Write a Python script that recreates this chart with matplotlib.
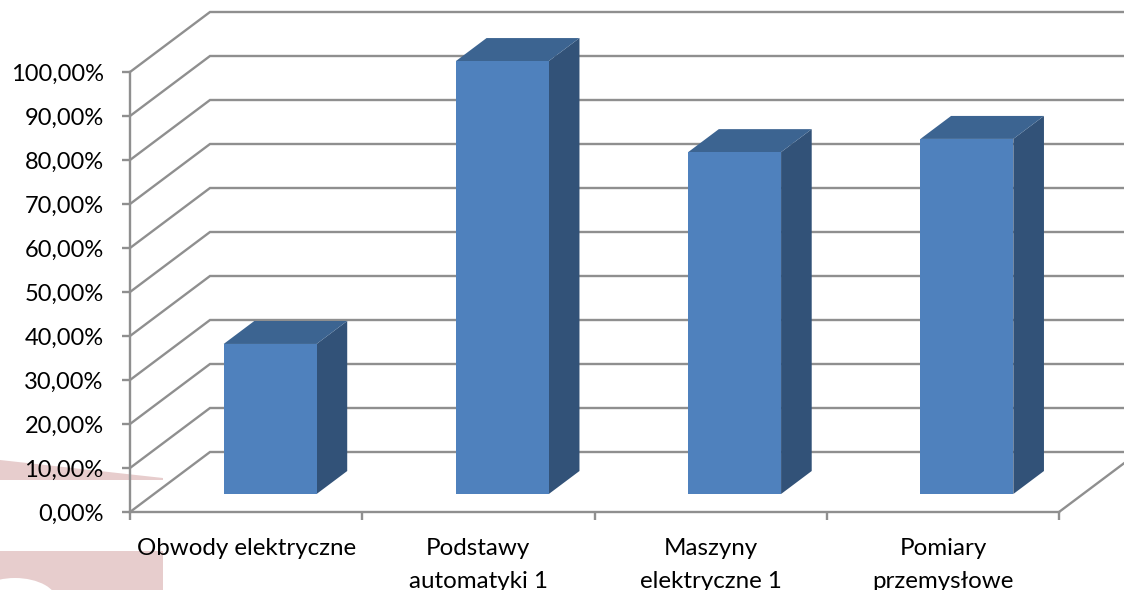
"""Wykres słupkowy 3D (rzut ukośny) - odtworzony na zwykłych osiach matplotlib."""

import matplotlib
matplotlib.use("Agg")
import matplotlib.pyplot as plt
from matplotlib.patches import Ellipse, Polygon

categories = ["Obwody elektryczne", "Podstawy\nautomatyki 1",
              "Maszyny\nelektryczne 1", "Pomiary\nprzemysłowe"]
values = [34.1, 98.4, 77.7, 80.7]
yticks = [0, 10, 20, 30, 40, 50, 60, 70, 80, 90, 100]

W, H = 1124, 590
GRID = "#8f8f8f"
FRONT = "#4f81bd"
SIDE = "#325278"
TOP = "#3c6491"
PINK = "#e7cdcd"

plt.rcParams["font.family"] = ["Lato", "DejaVu Sans"]

fig = plt.figure(figsize=(W / 100, H / 100), dpi=100)

# tło: blady znak wodny po lewej stronie
bg = fig.add_axes([0, 0, 1, 1], zorder=0)
bg.set_xlim(0, W)
bg.set_ylim(H, 0)
bg.axis("off")
bg.add_patch(Polygon([(0, 460), (163, 478), (163, 480), (0, 480)], fc=PINK, ec="none"))
bg.add_patch(Polygon([(0, 551), (163, 551), (163, 590), (0, 590)], fc=PINK, ec="none"))
bg.add_patch(Ellipse((15, 602), 85, 48, fc="white", ec="none"))

# oś główna = przednia płaszczyzna wykresu
x0, x1, y0, y1 = 130, 1059, 512, 72
ax = fig.add_axes([x0 / W, 1 - y0 / H, (x1 - x0) / W, (y0 - y1) / H], zorder=1)
ax.patch.set_alpha(0)
ax.set_xlim(0, 4)
ax.set_ylim(0, 100)

dx = 80 / ((x1 - x0) / 4)   # przesunięcie tylnej ściany w jednostkach kategorii
dy = 60 / ((y0 - y1) / 100)  # ... i w jednostkach wartości


def proj(x, v, d):
    """Punkt (kategoria, wartość, głębokość 0-1) -> współrzędne danych."""
    return x + d * dx, v + d * dy


# siatka: skos na lewej ścianie + linia na tylnej ścianie
for v in yticks:
    bx, by = proj(0, v, 1)
    ax.plot([0, bx, 5], [v, by, by], color=GRID, lw=1.7, clip_on=False, zorder=1,
            solid_joinstyle="miter")
fx, fy = proj(4, 0, 0)
bx, by = proj(4, 0, 1)
ax.plot([fx, bx], [fy, by], color=GRID, lw=1.7, clip_on=False, zorder=1)

# słupki
bar_w = 0.4
d_front, d_back = 0.3, 0.683
for i, v in enumerate(values):
    left = i + 0.5 - bar_w / 2
    right = i + 0.5 + bar_w / 2
    front = [proj(left, 0, d_front), proj(right, 0, d_front),
             proj(right, v, d_front), proj(left, v, d_front)]
    side = [proj(right, 0, d_front), proj(right, 0, d_back),
            proj(right, v, d_back), proj(right, v, d_front)]
    top = [proj(left, v, d_front), proj(right, v, d_front),
           proj(right, v, d_back), proj(left, v, d_back)]
    ax.add_patch(Polygon(side, fc=SIDE, ec="none", clip_on=False, zorder=3))
    ax.add_patch(Polygon(top, fc=TOP, ec="none", clip_on=False, zorder=3))
    ax.add_patch(Polygon(front, fc=FRONT, ec="none", clip_on=False, zorder=4))

for name in ("top", "right"):
    ax.spines[name].set_visible(False)
for name in ("left", "bottom"):
    ax.spines[name].set_color(GRID)
    ax.spines[name].set_linewidth(1.7)

ax.set_yticks(yticks)
ax.set_yticklabels([f"{v},00%" for v in yticks], fontsize=17, color="black")
ax.set_xticks([0, 1, 2, 3, 4])
ax.set_xticklabels([])
ax.set_xticks([0.5, 1.5, 2.5, 3.5], minor=True)
ax.set_xticklabels(categories, minor=True, fontsize=17.4, color="black", linespacing=1.72)
ax.tick_params(axis="both", which="major", color=GRID, width=1.7, length=6)
ax.tick_params(axis="y", pad=13)
ax.tick_params(axis="x", which="minor", length=0, pad=18.5)

fig.savefig("out.png", dpi=100)
